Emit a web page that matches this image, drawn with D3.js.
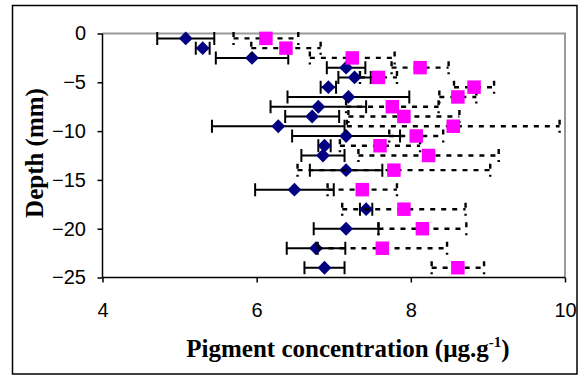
<!DOCTYPE html>
<html>
<head>
<meta charset="utf-8">
<script src="https://cdn.jsdelivr.net/npm/d3@7"></script>
<style>
  body { margin: 0; background: #fff; }
  .tick text { font-family: Arial, "Liberation Sans", sans-serif; font-size: 20px; fill: #000; }
  .axis-title { font-family: "Times New Roman", "Liberation Serif", serif; font-weight: bold; font-size: 25px; fill: #000; }
</style>
</head>
<body>
<div id="chart"></div>
<script>
// depth of each sample (mm)
const depths = [-0.5, -1.5, -2.5, -3.5, -4.5, -5.5, -6.5, -7.5, -8.5, -9.5, -10.5, -11.5, -12.5, -14, -16, -18, -20, -22, -24];
// series 1 (navy diamonds, solid error bars)
const seriesA = [5.08, 5.30, 5.94, 7.16, 7.27, 6.93, 7.19, 6.80, 6.72, 6.28, 7.16, 6.88, 6.86, 7.16, 6.49, 7.42, 7.16, 6.77, 6.88];
const seriesAErr = [0.37, 0.09, 0.47, 0.25, 0.21, 0.10, 0.79, 0.62, 0.35, 0.86, 0.70, 0.08, 0.28, 0.47, 0.51, 0.08, 0.42, 0.38, 0.26];
// series 2 (magenta squares, dotted error bars)
const seriesB = [6.12, 6.38, 7.24, 8.12, 7.58, 8.82, 8.61, 7.76, 7.91, 8.55, 8.07, 7.60, 8.23, 7.78, 7.37, 7.91, 8.15, 7.63, 8.61];
const seriesBErr = [0.42, 0.45, 0.55, 0.37, 0.24, 0.26, 0.24, 0.60, 0.72, 1.38, 0.35, 0.52, 0.91, 1.25, 0.45, 0.80, 0.57, 0.84, 0.34];

const xTicks = [4, 6, 8, 10];
const yTicks = [0, -5, -10, -15, -20, -25];

const W = 587, H = 376;
const plot = { left: 102.5, right: 565, top: 33.5, bottom: 277.5 };

const svg = d3.select("#chart").append("svg")
    .attr("width", W)
    .attr("height", H);

// outer chart border
svg.append("rect")
    .attr("x", 12.5).attr("y", 5.5)
    .attr("width", 564.5).attr("height", 368.5)
    .attr("fill", "none")
    .attr("stroke", "#000")
    .attr("stroke-width", 1.5);

const x = d3.scaleLinear().domain([4, 10]).range([plot.left, plot.right]);
const y = d3.scaleLinear().domain([0, -25]).range([plot.top, plot.bottom]);

// plot area frame (grey top and right)
svg.append("path")
    .attr("d", `M${plot.left},${plot.top}H${plot.right}V${plot.bottom}`)
    .attr("fill", "none")
    .attr("stroke", "#9a9a9a")
    .attr("stroke-width", 2);

// axes
const yAxis = svg.append("g")
    .attr("transform", `translate(${plot.left},0)`)
    .call(d3.axisLeft(y).tickValues(yTicks).tickSize(5).tickPadding(11.5).tickFormat(d3.format("d")));
yAxis.select(".domain").attr("d", `M0,${plot.top}V${plot.bottom}`).attr("stroke-width", 1.5);
yAxis.selectAll(".tick line").attr("stroke-width", 1.5);

const xAxis = svg.append("g")
    .attr("transform", `translate(0,${plot.bottom})`)
    .call(d3.axisBottom(x).tickValues(xTicks).tickSize(5).tickPadding(20).tickFormat(d3.format("d")));
xAxis.select(".domain").attr("d", `M${plot.left},0H${plot.right}`).attr("stroke-width", 1.5);
xAxis.selectAll(".tick line").attr("stroke-width", 1.5);

const rowsA = depths.map((d, i) => ({ depth: d, v: seriesA[i], e: seriesAErr[i] }));
const rowsB = depths.map((d, i) => ({ depth: d, v: seriesB[i], e: seriesBErr[i] }));
const capH = 6.5;

function drawErrorBars(rows, dash, width) {
  const g = svg.append("g")
      .attr("stroke", "#000")
      .attr("stroke-width", width)
      .attr("fill", "none")
      .attr("stroke-dasharray", dash);
  g.selectAll("path.bar")
    .data(rows)
    .enter().append("path")
      .attr("d", d => `M${x(d.v - d.e)},${y(d.depth)}H${x(d.v + d.e)}`);
  g.selectAll("path.cap")
    .data(rows)
    .enter().append("path")
      .attr("d", d => `M${x(d.v - d.e)},${y(d.depth) - capH}V${y(d.depth) + capH}` +
                      `M${x(d.v + d.e)},${y(d.depth) - capH}V${y(d.depth) + capH}`);
}

// series 1
drawErrorBars(rowsA, null, 2);
svg.append("g").selectAll("path")
    .data(rowsA)
    .enter().append("path")
      .attr("d", d3.symbol(d3.symbolSquare, 96))
      .attr("transform", d => `translate(${x(d.v)},${y(d.depth)}) rotate(45)`)
      .attr("fill", "#000080");

// series 2
drawErrorBars(rowsB, "5,6", 2.4);
svg.append("g").selectAll("path")
    .data(rowsB)
    .enter().append("path")
      .attr("d", d3.symbol(d3.symbolSquare, 182))
      .attr("transform", d => `translate(${x(d.v)},${y(d.depth)})`)
      .attr("fill", "#ff00ff");

// axis titles
const xTitle = svg.append("text")
    .attr("class", "axis-title")
    .attr("x", 348)
    .attr("y", 356.5)
    .attr("text-anchor", "middle");
xTitle.append("tspan").text("Pigment concentration (µg.g");
xTitle.append("tspan").attr("font-size", 15).attr("dy", -10).text("-1");
xTitle.append("tspan").attr("dy", 10).text(")");

svg.append("text")
    .attr("class", "axis-title")
    .attr("transform", "translate(43,153) rotate(-90)")
    .attr("text-anchor", "middle")
    .text("Depth (mm)");
</script>
</body>
</html>
